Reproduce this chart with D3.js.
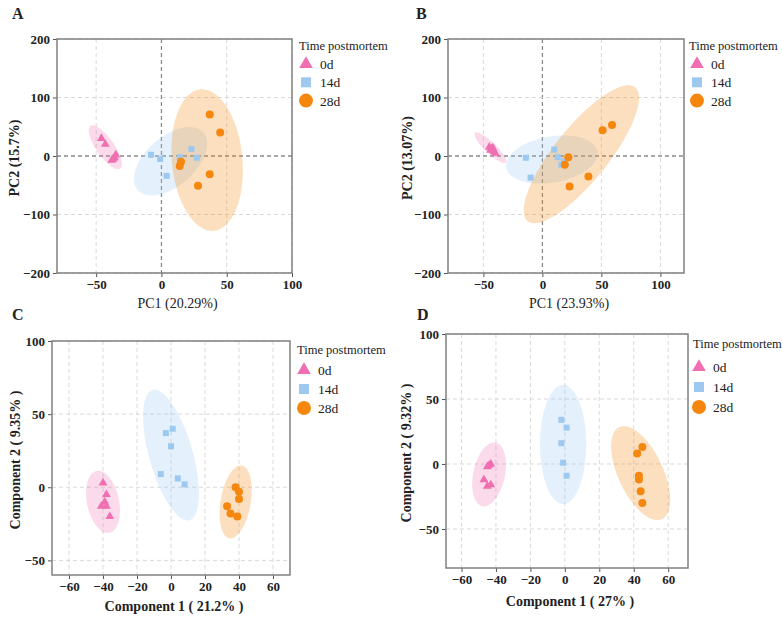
<!DOCTYPE html>
<html>
<head>
<meta charset="utf-8">
<script src="https://cdn.jsdelivr.net/npm/d3@7"></script>
<style>
	body { margin: 0; background: #fff; }
	svg text { font-family: "Times New Roman", "Liberation Serif", serif; fill: #222; }
</style>
</head>
<body>
<div id="chart"></div>
<script>
var groups = ["0d", "14d", "28d"];
var legendTitle = "Time postmortem";

// panel A  (PCA)
var aTri = [[-46, 30], [-43, 20], [-35, 2], [-36, -3], [-38, -7], [-37, -5]];
var aSq = [[-8, 2], [-1, -5], [4, -34], [14, -2], [23, 12], [27, -3]];
var aCirc = [[37, 71], [45, 40], [15, -10], [14, -17], [37, -31], [28, -51]];
// ellipses: centre x, centre y, axis1 (dx, dy), axis2 (dx, dy) in data units
var aEll = [[-43, 15, 11.4, -36.4, 5.6, 8.9], [7, -9, 26.2, 46, 10.1, -36], [35, -7, 5.1, -120.9, 26.9, 5.8]];

// panel B
var bTri = [[-45, 15], [-43, 12], [-41, 8], [-40, 5], [-44, 10], [-42, 14]];
var bSq = [[-14, -3], [-10, -37], [10, 11], [13, -2], [16, -15], [18, -9]];
var bCirc = [[51, 44], [59, 53], [22, -2], [19, -15], [39, -35], [23, -52]];
var bEll = [[-44, 14, 13.1, -25.2, 3.2, 6.9], [8, -6, 38.6, 13.7, 3.4, -38.8], [33, 3, 45.5, 114.4, 17.8, -28.6]];

// panel C  (PLS-DA)
var cTri = [[-40, 3], [-38, -5], [-39, -10], [-41, -13], [-38, -13], [-36, -20]];
var cSq = [[-3, 37], [1, 40], [0, 28], [-6, 9], [4, 6], [8, 2]];
var cCirc = [[38, 0], [40, -3], [40, -8], [33, -13], [35, -18], [39, -20]];
var cEll = [[-40, -10, 3.8, -21.1, 9.2, 2.3], [0, 22, 10.9, -44.5, 12.3, 4.2], [38, -10, 3.7, 24.9, 8.7, -1.8]];

// panel D
var dTri = [[-43, 0], [-44, -1], [-45, -2], [-47, -12], [-45, -17], [-43, -16]];
var dSq = [[-2, 34], [1, 28], [-2, 16], [-1, 1], [1, -9]];
var dCirc = [[45, 13], [42, 8], [43, -9], [43, -12], [44, -21], [45, -30]];
var dEll = [[-44, -8, 3.9, 24.5, 9.0, -2.5], [-1, 15, 0, 45.8, 13.4, 0], [44, -7, 12.4, -35.4, 11.8, 7.4]];

var pcTicksX = [-50, 0, 50, 100];
var pcTicksY = [-200, -100, 0, 100, 200];
var compTicksX = [-60, -40, -20, 0, 20, 40, 60];
var compTicksY = [-50, 0, 50, 100];

var colors = ["#ef6fb0", "#9dc9f0", "#f5870f"];
var fillOpacity = [0.26, 0.27, 0.27];

var svg = d3.select("#chart").append("svg")
	.attr("width", 782)
	.attr("height", 618);

var panels = [
	{ label: "A", lx: 12, ly: 19, box: [57, 39, 292, 273], xd: [-80, 100], yd: [-200, 200],
		xt: pcTicksX, yt: pcTicksY, xTitle: "PC1 (20.29%)", yTitle: "PC2 (15.7%)", titleBold: false,
		xTitleY: 308, yTitleX: 19, zero: true, leg: [299, 50, 306, 64, 18.3],
		tri: aTri, sq: aSq, circ: aCirc, ell: aEll },
	{ label: "B", lx: 416, ly: 19, box: [448, 39, 684, 273], xd: [-80, 120], yd: [-200, 200],
		xt: pcTicksX, yt: pcTicksY, xTitle: "PC1 (23.93%)", yTitle: "PC2 (13.07%)", titleBold: false,
		xTitleY: 308, yTitleX: 412, zero: true, leg: [689, 50, 697, 64, 18.3],
		tri: bTri, sq: bSq, circ: bCirc, ell: bEll },
	{ label: "C", lx: 12, ly: 320, box: [52, 341, 290, 575], xd: [-70, 70], yd: [-60, 100],
		xt: compTicksX, yt: compTicksY, xTitle: "Component 1 ( 21.2% )", yTitle: "Component 2 ( 9.35% )", titleBold: true,
		xTitleY: 611, yTitleX: 20, zero: false, leg: [297, 354, 304, 370, 19],
		tri: cTri, sq: cSq, circ: cCirc, ell: cEll },
	{ label: "D", lx: 417, ly: 320, box: [446, 334, 688, 568], xd: [-69, 71.5], yd: [-80, 100],
		xt: compTicksX, yt: compTicksY, xTitle: "Component 1 ( 27% )", yTitle: "Component 2 ( 9.32% )", titleBold: true,
		xTitleY: 606, yTitleX: 411, zero: false, leg: [693, 348, 699, 367, 20],
		tri: dTri, sq: dSq, circ: dCirc, ell: dEll }
];

function fmt(v) {
	return v < 0 ? "\u2212" + Math.abs(v) : "" + v;
}

function drawPanel(p) {
	var x = d3.scaleLinear().domain(p.xd).range([p.box[0], p.box[2]]);
	var y = d3.scaleLinear().domain(p.yd).range([p.box[3], p.box[1]]);
	var g = svg.append("g");

	// grid
	g.selectAll(".gx").data(p.xt).enter().append("line")
		.attr("x1", function(d) { return x(d); }).attr("x2", function(d) { return x(d); })
		.attr("y1", p.box[1]).attr("y2", p.box[3])
		.attr("stroke", function(d) { return (p.zero && d === 0) ? "#8a8a8a" : "#d9d9d9"; })
		.attr("stroke-width", function(d) { return (p.zero && d === 0) ? 1.3 : 1; })
		.attr("stroke-dasharray", "4,3");
	g.selectAll(".gy").data(p.yt).enter().append("line")
		.attr("y1", function(d) { return y(d); }).attr("y2", function(d) { return y(d); })
		.attr("x1", p.box[0]).attr("x2", p.box[2])
		.attr("stroke", function(d) { return (p.zero && d === 0) ? "#8a8a8a" : "#d9d9d9"; })
		.attr("stroke-width", function(d) { return (p.zero && d === 0) ? 1.3 : 1; })
		.attr("stroke-dasharray", "4,3");

	// ellipses
	var line = d3.line().curve(d3.curveLinearClosed);
	var ts = d3.range(0, Math.PI * 2, Math.PI / 60);
	g.selectAll(".ell").data(p.ell).enter().append("path")
		.attr("d", function(e) {
			return line(ts.map(function(t) {
				return [x(e[0] + e[2] * Math.cos(t) + e[4] * Math.sin(t)),
								y(e[1] + e[3] * Math.cos(t) + e[5] * Math.sin(t))];
			}));
		})
		.attr("fill", function(e, i) { return colors[i]; })
		.attr("fill-opacity", function(e, i) { return fillOpacity[i]; })
		.attr("stroke", "none");

	// points
	var triSym = d3.symbol().type(d3.symbolTriangle).size(34);
	g.selectAll(".tri").data(p.tri).enter().append("path")
		.attr("d", triSym)
		.attr("transform", function(d) { return "translate(" + x(d[0]) + "," + y(d[1]) + ")"; })
		.attr("fill", colors[0]);
	g.selectAll(".sq").data(p.sq).enter().append("rect")
		.attr("x", function(d) { return x(d[0]) - 3; })
		.attr("y", function(d) { return y(d[1]) - 3; })
		.attr("width", 6).attr("height", 6)
		.attr("fill", colors[1]);
	g.selectAll(".circ").data(p.circ).enter().append("circle")
		.attr("cx", function(d) { return x(d[0]); })
		.attr("cy", function(d) { return y(d[1]); })
		.attr("r", 4)
		.attr("fill", colors[2]);

	// axes
	var xa = g.append("g").attr("transform", "translate(0," + p.box[3] + ")")
		.call(d3.axisBottom(x).tickValues(p.xt).tickSize(4).tickFormat(fmt));
	var ya = g.append("g").attr("transform", "translate(" + p.box[0] + ",0)")
		.call(d3.axisLeft(y).tickValues(p.yt).tickSize(4).tickFormat(fmt));
	[xa, ya].forEach(function(a) {
		a.select(".domain").remove();
		a.selectAll("line").attr("stroke", "#555");
		a.selectAll("text").attr("font-size", 13).attr("font-weight", "bold")
			.attr("font-family", "'Times New Roman', 'Liberation Serif', serif").attr("fill", "#222");
	});

	// frame
	g.append("rect")
		.attr("x", p.box[0]).attr("y", p.box[1])
		.attr("width", p.box[2] - p.box[0]).attr("height", p.box[3] - p.box[1])
		.attr("fill", "none").attr("stroke", "#808080").attr("stroke-width", 1.5);

	// titles
	g.append("text")
		.attr("x", (p.box[0] + p.box[2]) / 2 + 3).attr("y", p.xTitleY)
		.attr("text-anchor", "middle").attr("font-size", 14)
		.attr("font-weight", p.titleBold ? "bold" : "normal")
		.text(p.xTitle);
	g.append("text")
		.attr("transform", "translate(" + p.yTitleX + "," + ((p.box[1] + p.box[3]) / 2 + 2) + ") rotate(-90)")
		.attr("text-anchor", "middle").attr("font-size", 14)
		.attr("font-weight", "bold")
		.text(p.yTitle);
	g.append("text")
		.attr("x", p.lx).attr("y", p.ly)
		.attr("font-size", 16).attr("font-weight", "bold")
		.text(p.label);

	// legend
	var L = p.leg;
	g.append("text").attr("x", L[0]).attr("y", L[1]).attr("font-size", 12.5).text(legendTitle);
	var lg = g.selectAll(".lg").data(groups).enter().append("g")
		.attr("transform", function(d, i) { return "translate(" + L[2] + "," + (L[3] + i * L[4]) + ")"; });
	lg.each(function(d, i) {
		var s = d3.select(this);
		if (i === 0) {
			s.append("path").attr("d", d3.symbol().type(d3.symbolTriangle).size(80)).attr("fill", colors[0]);
		} else if (i === 1) {
			s.append("rect").attr("x", -5).attr("y", -5).attr("width", 10).attr("height", 10).attr("fill", colors[1]);
		} else {
			s.append("circle").attr("r", 7).attr("fill", colors[2]);
		}
	});
	lg.append("text").attr("x", 14).attr("y", 5).attr("font-size", 13.5).text(function(d) { return d; });
}

panels.forEach(drawPanel);
</script>
</body>
</html>
